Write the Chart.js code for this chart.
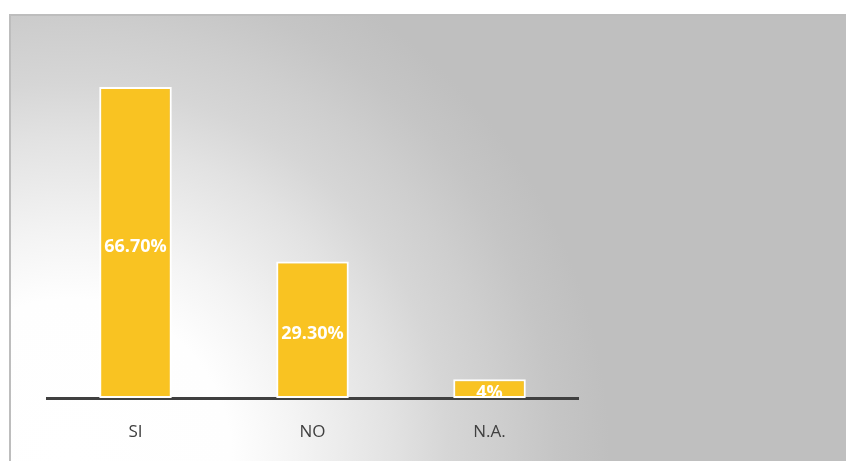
<!DOCTYPE html>
<html>
<head>
<meta charset="utf-8">
<script src="https://cdn.jsdelivr.net/npm/chart.js@4"></script>
<style>
  html, body { margin: 0; padding: 0; background: #fff; }
  #wrap { width: 846px; height: 461px; }
</style>
</head>
<body>
<div id="wrap"><canvas id="chart"></canvas></div>
<script>
const categorias = ["SI", "NO", "N.A."];
const valores = [66.7, 29.3, 4];
const etiquetas = ["66.70%", "29.30%", "4%"];

const fondo = {
  id: "fondo",
  beforeDraw(chart) {
    const ctx = chart.ctx;
    ctx.save();
    ctx.fillStyle = "#ffffff";
    ctx.fillRect(0, 0, chart.width, chart.height);
    const g = ctx.createRadialGradient(70, 461, 0, 70, 461, 540);
    g.addColorStop(0, "#ffffff");
    g.addColorStop(0.3, "#fefefe");
    g.addColorStop(0.42, "#f4f4f4");
    g.addColorStop(0.6, "#e2e2e2");
    g.addColorStop(0.7, "#d6d6d6");
    g.addColorStop(0.8, "#cecece");
    g.addColorStop(0.9, "#c5c5c5");
    g.addColorStop(1, "#bfbfbf");
    ctx.fillStyle = g;
    ctx.fillRect(10, 15, chart.width - 10, chart.height - 15);
    ctx.strokeStyle = "#bdbdbd";
    ctx.lineWidth = 2;
    ctx.beginPath();
    ctx.moveTo(10, chart.height);
    ctx.lineTo(10, 15);
    ctx.lineTo(chart.width, 15);
    ctx.stroke();
    ctx.restore();
  }
};

const etiquetasBarras = {
  id: "etiquetasBarras",
  afterDraw(chart) {
    const ctx = chart.ctx;
    const meta = chart.getDatasetMeta(0);
    ctx.save();
    ctx.fillStyle = "#ffffff";
    ctx.font = "bold 18px 'Open Sans'";
    ctx.textAlign = "center";
    ctx.textBaseline = "middle";
    meta.data.forEach((bar, i) => {
      const y = (bar.y + bar.base) / 2 + 4;
      ctx.fillText(etiquetas[i], bar.x, y);
    });
    ctx.restore();
  }
};

new Chart(document.getElementById("chart"), {
  type: "bar",
  data: {
    labels: categorias,
    datasets: [{
      data: valores,
      backgroundColor: "#f9c322",
      borderColor: "#ffffff",
      borderWidth: 2,
      borderSkipped: false,
      categoryPercentage: 1,
      barPercentage: 0.41
    }]
  },
  options: {
    responsive: true,
    maintainAspectRatio: false,
    animation: false,
    layout: { padding: { left: 47, right: 268, top: 25, bottom: 0 } },
    plugins: { legend: { display: false }, tooltip: { enabled: false } },
    scales: {
      x: {
        z: 1,
        afterFit(scale) { scale.height = 63; },
        grid: { display: false, drawTicks: false },
        border: { color: "#404040", width: 3 },
        ticks: { color: "#404040", font: { size: 17, family: "'Open Sans'" }, padding: 24 }
      },
      y: {
        display: false,
        min: 0,
        max: 80
      }
    }
  },
  plugins: [fondo, etiquetasBarras]
});
</script>
</body>
</html>
